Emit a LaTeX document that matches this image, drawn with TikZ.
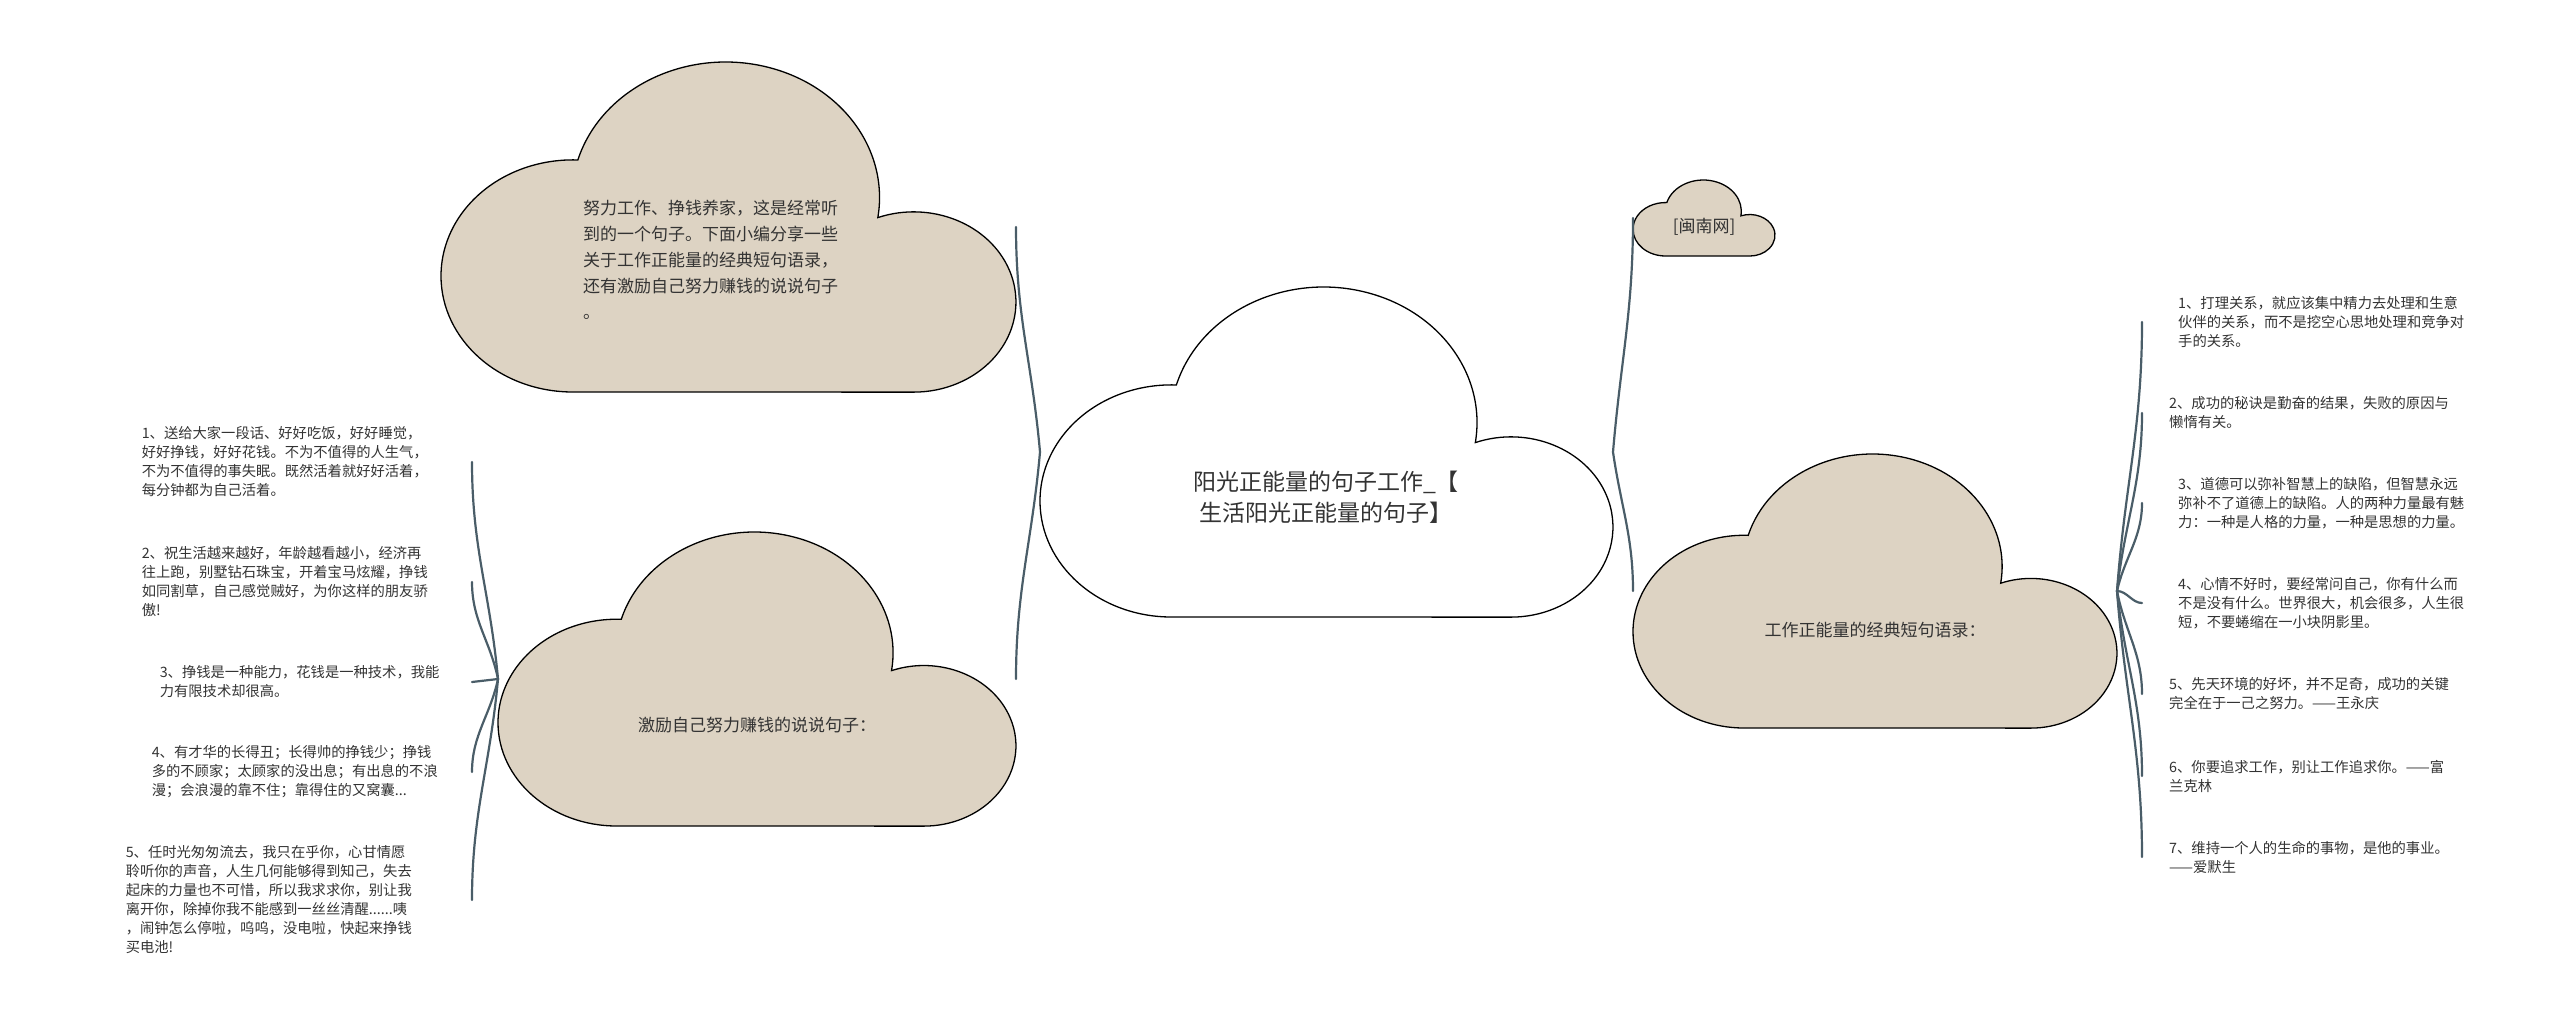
\documentclass[tikz,border=0pt]{standalone}
\usepackage{fontspec}
\setmainfont{Noto Sans CJK SC}
\definecolor{cloudfill}{HTML}{DDD3C3}
\definecolor{connc}{HTML}{4A5D68}
\definecolor{txtc}{HTML}{333333}
% #1 left x, #2 bottom y (pixels, downwards), #3 width, #4 height, #5 fill
\newcommand\cloudpath[5]{%
  \begin{scope}[shift={(#1pt,-#2pt)},x=1pt,y=1pt,xscale=#3,yscale=#4]
    \path[cloudline,fill=#5] (0.2292,0)
      arc[start angle=-90,end angle=-272.2,x radius=0.2292,y radius=0.3517]
      arc[start angle=163.9,end angle=-8.5,x radius=0.2676,y radius=0.4107]
      arc[start angle=110.5,end angle=-90,x radius=0.1779,y radius=0.2731]
      -- cycle;
  \end{scope}}
\begin{document}
\begin{tikzpicture}[x=1pt,y=-1pt,
  cloudline/.style={draw=black,line width=1.3pt},
  cloudbox/.style={draw=none,inner sep=0pt,outer sep=0pt},
  conn/.style={draw=connc,line width=2.2pt,line cap=round},
  ctext/.style={text=txtc,inner sep=0pt,font=\fontsize{17pt}{26pt}\selectfont},
  itemL/.style={text=txtc,inner sep=0pt,anchor=east,align=left,font=\fontsize{14.3pt}{19pt}\selectfont},
  itemR/.style={text=txtc,inner ysep=0pt,anchor=west,align=left,text width=390pt,font=\fontsize{14.3pt}{19pt}\selectfont}]
\useasboundingbox (0,0) rectangle (2560,1023);

% clouds
\cloudpath{441}{392}{575}{330}{cloudfill}
\node[cloudbox,minimum width=575pt,minimum height=330pt] (tl) at (728.5,227) {};
\cloudpath{1040}{617}{573}{330}{white}
\node[cloudbox,minimum width=573pt,minimum height=330pt] (cen) at (1326.5,452) {};
\cloudpath{498}{826}{518}{294}{cloudfill}
\node[cloudbox,minimum width=518pt,minimum height=294pt] (bl) at (757,679) {};
\cloudpath{1633}{256}{142}{76}{cloudfill}
\node[cloudbox,minimum width=142pt,minimum height=76pt] (sm) at (1704,218) {};
\cloudpath{1633}{728}{484}{274}{cloudfill}
\node[cloudbox,minimum width=484pt,minimum height=274pt] (rc) at (1875,591) {};

% cloud texts
\node[ctext,anchor=west,align=left] (tlt) at (583,260) {努力工作、挣钱养家，这是经常听\\到的一个句子。下面小编分享一些\\关于工作正能量的经典短句语录，\\还有激励自己努力赚钱的说说句子\\。};
\node[ctext,align=center,font=\fontsize{23pt}{31pt}\selectfont] (cent) at (1326,497) {阳光正能量的句子工作\_【\\生活阳光正能量的句子】};
\node[ctext] (blt) at (757,725) {激励自己努力赚钱的说说句子：};
\node[ctext] (smt) at (1704,227) {[闽南网]};
\node[ctext] (rct) at (1875,630) {工作正能量的经典短句语录：};

% left items
\node[itemL,text width=330pt] (l1) at (472,462) {1、送给大家一段话、好好吃饭，好好睡觉，\\好好挣钱，好好花钱。不为不值得的人生气，\\不为不值得的事失眠。既然活着就好好活着，\\每分钟都为自己活着。};
\node[itemL,text width=330pt] (l2) at (472,582) {2、祝生活越来越好，年龄越看越小，经济再\\往上跑，别墅钻石珠宝，开着宝马炫耀，挣钱\\如同割草，自己感觉贼好，为你这样的朋友骄\\傲!};
\node[itemL,text width=312pt] (l3) at (472,682) {3、挣钱是一种能力，花钱是一种技术，我能\\力有限技术却很高。};
\node[itemL,text width=320pt] (l4) at (472,772) {4、有才华的长得丑；长得帅的挣钱少；挣钱\\多的不顾家；太顾家的没出息；有出息的不浪\\漫；会浪漫的靠不住；靠得住的又窝囊...};
\node[itemL,text width=346pt] (l5) at (472,900) {5、任时光匆匆流去，我只在乎你，心甘情愿\\聆听你的声音，人生几何能够得到知己，失去\\起床的力量也不可惜，所以我求求你，别让我\\离开你，除掉你我不能感到一丝丝清醒......咦\\，闹钟怎么停啦，呜呜，没电啦，快起来挣钱\\买电池!};

% right items
\node[itemR,inner xsep=36pt] (r1) at (2142,322) {1、打理关系，就应该集中精力去处理和生意\\伙伴的关系，而不是挖空心思地处理和竞争对\\手的关系。};
\node[itemR,inner xsep=27pt] (r2) at (2142,413) {2、成功的秘诀是勤奋的结果，失败的原因与\\懒惰有关。};
\node[itemR,inner xsep=36pt] (r3) at (2142,503) {3、道德可以弥补智慧上的缺陷，但智慧永远\\弥补不了道德上的缺陷。人的两种力量最有魅\\力：一种是人格的力量，一种是思想的力量。};
\node[itemR,inner xsep=36pt] (r4) at (2142,603) {4、心情不好时，要经常问自己，你有什么而\\不是没有什么。世界很大，机会很多，人生很\\短，不要蜷缩在一小块阴影里。};
\node[itemR,inner xsep=27pt] (r5) at (2142,694) {5、先天环境的好坏，并不足奇，成功的关键\\完全在于一己之努力。——王永庆};
\node[itemR,inner xsep=27pt] (r6) at (2142,776) {6、你要追求工作，别让工作追求你。——富\\兰克林};
\node[itemR,inner xsep=27pt] (r7) at (2142,857) {7、维持一个人的生命的事物，是他的事业。\\——爱默生};

% connectors: centre
\draw[conn] (cen.west) .. controls +(-8,-90) and +(0,90) .. (tl.east);
\draw[conn] (cen.west) .. controls +(-8,90) and +(0,-90) .. (bl.east);
\draw[conn] (cen.east) .. controls +(8,-94) and +(0,94) .. (sm.west);
\draw[conn] (cen.east) .. controls +(8,55) and +(0,-55) .. (rc.west);
% connectors: left
\draw[conn] (bl.west) .. controls +(-8,-87) and +(0,87) .. (l1.east);
\draw[conn] (bl.west) .. controls +(-8,-39) and +(0,39) .. (l2.east);
\draw[conn] (bl.west) -- (l3.east);
\draw[conn] (bl.west) .. controls +(-8,37) and +(0,-37) .. (l4.east);
\draw[conn] (bl.west) .. controls +(-8,88) and +(0,-88) .. (l5.east);
% connectors: right
\draw[conn] (rc.east) .. controls +(8,-108) and +(0,108) .. (r1.west);
\draw[conn] (rc.east) .. controls +(8,-71) and +(0,71) .. (r2.west);
\draw[conn] (rc.east) .. controls +(8,-35) and +(0,35) .. (r3.west);
\draw[conn] (rc.east) .. controls +(10,0) and +(-10,0) .. (r4.west);
\draw[conn] (rc.east) .. controls +(8,41) and +(0,-41) .. (r5.west);
\draw[conn] (rc.east) .. controls +(8,74) and +(0,-74) .. (r6.west);
\draw[conn] (rc.east) .. controls +(8,106) and +(0,-106) .. (r7.west);
\end{tikzpicture}
\end{document}
